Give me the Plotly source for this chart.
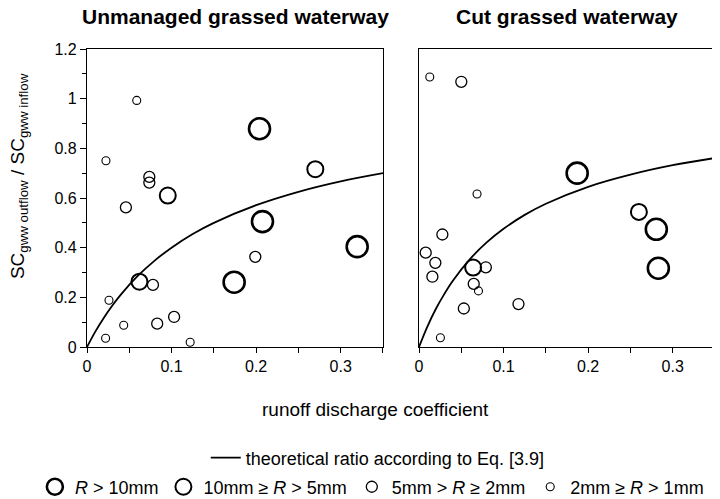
"""
Ratio of sediment concentration (outflow / inflow) against runoff discharge
coefficient for an unmanaged and a cut grassed waterway.
"""

import plotly.graph_objects as go

FONT = "Liberation Sans, Arial, sans-serif"

PANEL_TITLES = ["Unmanaged grassed waterway", "Cut grassed waterway"]
CLASS_NAMES = [
    "<i>R</i> > 10mm",
    "10mm ≥ <i>R</i> > 5mm",
    "5mm > <i>R</i> ≥ 2mm",
    "2mm ≥ <i>R</i> > 1mm",
]
CURVE_NAME = "theoretical ratio according to Eq. [3.9]"

# theoretical curves
curve_x = [0, 0.01, 0.02, 0.03, 0.04, 0.06, 0.08, 0.1, 0.125, 0.15, 0.2, 0.25, 0.3, 0.35]
unmanaged_curve_y = [0, 0.063, 0.118, 0.167, 0.211, 0.286, 0.348, 0.40, 0.455, 0.50,
                     0.571, 0.625, 0.667, 0.70]
cut_curve_y = [0, 0.083, 0.154, 0.214, 0.267, 0.353, 0.421, 0.476, 0.532, 0.577,
               0.645, 0.694, 0.732, 0.761]

# unmanaged waterway, one pair of lists per rainfall class
unmanaged_large_x = [0.204, 0.2075, 0.174, 0.3195]
unmanaged_large_y = [0.879, 0.505, 0.261, 0.404]
unmanaged_medium_x = [0.0955, 0.270, 0.062]
unmanaged_medium_y = [0.61, 0.716, 0.263]
unmanaged_small_x = [0.046, 0.0737, 0.0737, 0.078, 0.083, 0.103, 0.199]
unmanaged_small_y = [0.562, 0.685, 0.662, 0.25, 0.094, 0.121, 0.363]
unmanaged_tiny_x = [0.0588, 0.0224, 0.026, 0.0434, 0.022, 0.122]
unmanaged_tiny_y = [0.993, 0.75, 0.188, 0.0875, 0.035, 0.019]

# cut waterway
cut_large_x = [0.187, 0.2806, 0.283]
cut_large_y = [0.70, 0.474, 0.317]
cut_medium_x = [0.064, 0.26]
cut_medium_y = [0.32, 0.544]
cut_small_x = [0.05, 0.0276, 0.0079, 0.0193, 0.0158, 0.079, 0.0647, 0.053, 0.1176]
cut_small_y = [1.068, 0.453, 0.38, 0.339, 0.283, 0.321, 0.254, 0.155, 0.173]
cut_tiny_x = [0.0127, 0.0686, 0.0703, 0.0253]
cut_tiny_y = [1.087, 0.616, 0.226, 0.0375]

# marker diameter and outline width per class
marker_sizes = [21, 16, 11, 8]
marker_lines = [2.6, 2.0, 1.3, 1.1]

unmanaged = [(unmanaged_large_x, unmanaged_large_y), (unmanaged_medium_x, unmanaged_medium_y),
             (unmanaged_small_x, unmanaged_small_y), (unmanaged_tiny_x, unmanaged_tiny_y)]
cut = [(cut_large_x, cut_large_y), (cut_medium_x, cut_medium_y),
       (cut_small_x, cut_small_y), (cut_tiny_x, cut_tiny_y)]

fig = go.Figure()


def add_panel(points, curve_y, xa, ya, first):
    fig.add_trace(go.Scatter(
        x=curve_x, y=curve_y, mode='lines', line=dict(color='black', width=1.8, shape='spline'),
        name=CURVE_NAME, xaxis=xa, yaxis=ya, showlegend=first, legend='legend',
        hoverinfo='skip'
    ))
    for i, (xs, ys) in enumerate(points):
        fig.add_trace(go.Scatter(
            x=xs, y=ys, mode='markers', name=CLASS_NAMES[i],
            marker=dict(size=marker_sizes[i], color='rgba(0,0,0,0)', symbol='circle',
                        line=dict(color='black', width=marker_lines[i])),
            xaxis=xa, yaxis=ya, showlegend=first, legend='legend2', cliponaxis=False
        ))


add_panel(unmanaged, unmanaged_curve_y, 'x', 'y', True)
add_panel(cut, cut_curve_y, 'x2', 'y2', False)

axis_common = dict(
    showgrid=False, zeroline=False, showline=True, linecolor='black', linewidth=1.3,
    mirror=True, ticks='outside', tickcolor='black', tickwidth=1.2,
    tickfont=dict(family=FONT, size=16, color='black'),
)

xaxis_common = dict(axis_common, range=[0, 0.35], dtick=0.1, tick0=0, ticklen=5,
                    minor=dict(dtick=0.05, ticks='outside', ticklen=5, tickcolor='black'))

# page body adds an 8px margin, so the figure is 8px smaller than the window
fig.update_layout(
    width=712, height=491,
    paper_bgcolor='white', plot_bgcolor='white',
    margin=dict(l=79, r=5, t=41, b=152, autoexpand=False),
    font=dict(family=FONT, color='black'),
    xaxis=dict(xaxis_common, domain=[0, 0.4713], anchor='y'),
    xaxis2=dict(xaxis_common, domain=[0.5287, 1.0], anchor='y2'),
    yaxis=dict(axis_common, range=[0, 1.2], dtick=0.2, tick0=0, ticklen=6, anchor='x',
               minor=dict(dtick=0.1, ticks='outside', ticklen=4, tickcolor='black')),
    yaxis2=dict(axis_common, range=[0, 1.2], dtick=0.1, tick0=0, ticklen=5, anchor='x2',
                side='right', showticklabels=False),
    legend=dict(orientation='h', x=0.463, xanchor='center', y=-0.372, yanchor='middle',
                font=dict(family=FONT, size=18), bgcolor='rgba(0,0,0,0)'),
    legend2=dict(orientation='h', x=-0.083, xanchor='left', y=-0.47, yanchor='middle',
                 font=dict(family=FONT, size=18), bgcolor='rgba(0,0,0,0)', itemsizing='trace'),
)

# panel titles
for x, text in zip([0.2357, 0.764], PANEL_TITLES):
    fig.add_annotation(x=x, y=1.108, xref='paper', yref='paper', text=f"<b>{text}</b>",
                       showarrow=False, xanchor='center', yanchor='middle',
                       font=dict(family=FONT, size=21))

# shared axis titles
fig.add_annotation(x=0.46, y=-0.211, xref='paper', yref='paper',
                   text="runoff discharge coefficient", showarrow=False,
                   xanchor='center', yanchor='middle', font=dict(family=FONT, size=19))
fig.add_annotation(x=-0.108, y=0.574, xref='paper', yref='paper', textangle=-90,
                   text="SC<sub>gww outflow</sub> / SC<sub>gww inflow</sub>", showarrow=False,
                   xanchor='center', yanchor='middle', font=dict(family=FONT, size=19))

fig.write_html("out.html")
